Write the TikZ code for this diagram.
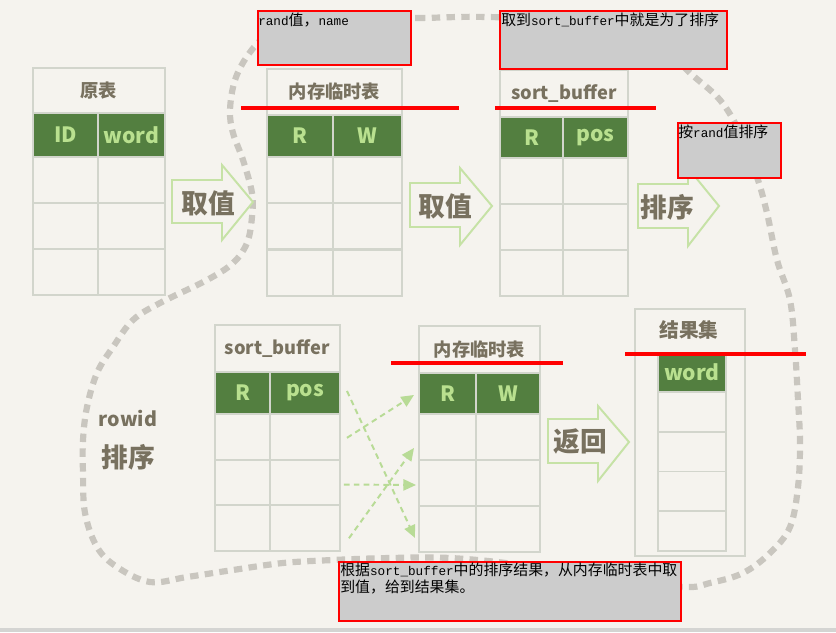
\documentclass[tikz,border=0pt]{standalone}
\usepackage{fontspec}
\setmainfont{Noto Sans CJK SC}
\setmonofont[Scale=0.85]{Liberation Mono}
\usetikzlibrary{positioning,arrows.meta,calc}
\definecolor{paper}{HTML}{F5F3EE}
\definecolor{stripgray}{HTML}{D4D4D2}
\definecolor{gridline}{HTML}{D2D5CC}
\definecolor{headfill}{HTML}{537F40}
\definecolor{headtext}{HTML}{B9E08F}
\definecolor{inkgray}{HTML}{78715F}
\definecolor{leafgreen}{HTML}{C6E2A6}
\definecolor{dashgreen}{HTML}{B8DB96}
\definecolor{loopgray}{HTML}{C9C6BF}
\definecolor{notefill}{HTML}{CCCCCC}
\newcommand{\pxu}{0.025cm}

\begin{document}
\begin{tikzpicture}[x=0.025cm, y=-0.025cm,
  cellsize/.style 2 args={minimum width=#1*\pxu, minimum height=#2*\pxu},
  titlebox/.style={draw=gridline, line width=1.4pt, inner sep=0pt, anchor=north west, text=inkgray, font=\fontsize{13}{15}\selectfont\bfseries},
  headcell/.style={draw=gridline, line width=1.4pt, fill=headfill, inner sep=0pt, anchor=north west, text=headtext, font=\fontsize{15}{17}\selectfont\bfseries},
  bodycell/.style={draw=gridline, line width=1.4pt, inner sep=0pt, anchor=north west},
  blockarrow/.style={draw=leafgreen, line width=1.4pt, fill=paper},
  arrowword/.style={text=inkgray, font=\fontsize{19}{21}\selectfont\bfseries, inner sep=0pt},
  swapline/.style={draw=dashgreen, line width=1.4pt, dash pattern=on 4pt off 3pt, -{Triangle[length=9pt,width=8pt]}},
  loopline/.style={draw=loopgray, line width=4.4pt, dash pattern=on 6pt off 4.5pt},
  redmark/.style={draw=red, line width=2.2pt},
  notebox/.style={draw=red, line width=1.4pt, fill=notefill, inner sep=0pt, anchor=north west},
  notetext/.style={anchor=north west, inner sep=0pt, align=left, font=\fontsize{10.6}{11.5}\selectfont, text=black}
]
% canvas
\fill[paper] (0,0) rectangle (836,632);
\fill[stripgray] (0,628) rectangle (836,632);
\useasboundingbox (0,0) rectangle (836,632);

% rowid loop
\draw[loopline] plot[smooth cycle, tension=0.6] coordinates {
  (330,18) (417,18) (487,17) (600,22) (660,45) (690,73) (720,100) (740,133)
  (757,177) (767,213) (777,260) (790,300) (795,350) (798,400) (800,443)
  (798,487) (790,527) (770,553) (743,573) (710,583) (683,587) (600,580)
  (520,565) (450,558) (390,558) (333,560) (283,563) (233,570) (187,577)
  (150,582) (117,567) (97,547) (85,513) (83,473) (83,440) (87,407) (97,373)
  (113,347) (133,320) (160,303) (207,280) (233,263) (247,243) (252,217)
  (252,193) (243,160) (233,133) (230,110) (235,80) (248,55) (266,36) (292,24)};
\node[text=inkgray, align=center, inner sep=0pt] (rowidlbl) at (128,440)
  {{\fontsize{14}{16}\selectfont\bfseries rowid}\\[12pt]{\fontsize{19}{21}\selectfont\bfseries 排序}};

% original table
\node[titlebox, cellsize={132}{45}] (yb-t) at (32,67) {原表};
\node[headcell, cellsize={65}{44}] (yb-h1) at (32,112) {ID};
\node[headcell, cellsize={67}{44}] (yb-h2) at (97,112) {word};
\foreach \i in {0,1,2} {
  \node[bodycell, cellsize={65}{46}] (yb-a\i) at (32,{156+46*\i}) {};
  \node[bodycell, cellsize={67}{46}] (yb-b\i) at (97,{156+46*\i}) {};
}

% memory table, top
\node[titlebox, cellsize={135}{46}] (nc-t) at (266,68) {内存临时表};
\node[headcell, cellsize={66}{42}] (nc-h1) at (266,114) {R};
\node[headcell, cellsize={69}{42}] (nc-h2) at (332,114) {W};
\foreach \i in {0,1,2} {
  \node[bodycell, cellsize={66}{46}] (nc-a\i) at (266,{156+46.3*\i}) {};
  \node[bodycell, cellsize={69}{46}] (nc-b\i) at (332,{156+46.3*\i}) {};
}

% sort buffer, top
\node[titlebox, cellsize={128}{47}] (sb-t) at (499,69) {sort\_buffer};
\node[headcell, cellsize={63}{41}] (sb-h1) at (499,116) {R};
\node[headcell, cellsize={65}{41}] (sb-h2) at (562,116) {pos};
\foreach \i in {0,1,2} {
  \node[bodycell, cellsize={63}{46}] (sb-a\i) at (499,{157+46*\i}) {};
  \node[bodycell, cellsize={65}{46}] (sb-b\i) at (562,{157+46*\i}) {};
}

% sort buffer, bottom
\node[titlebox, cellsize={125}{47}] (dh-t) at (214,324) {sort\_buffer};
\node[headcell, cellsize={55}{42}] (dh1) at (214,371) {R};
\node[headcell, cellsize={70}{42}] (dh2) at (269,371) {pos};
\foreach \i in {0,1,2} {
  \node[bodycell, cellsize={55}{45.7}] (dl\i) at (214,{413+45.7*\i}) {};
  \node[bodycell, cellsize={70}{45.7}] (dr\i) at (269,{413+45.7*\i}) {};
}

% memory table, bottom
\node[titlebox, cellsize={121}{47}] (eh-t) at (418,325) {内存临时表};
\node[headcell, cellsize={57}{41}] (eh1) at (418,372) {R};
\node[headcell, cellsize={64}{41}] (eh2) at (475,372) {W};
\foreach \i in {0,1,2} {
  \node[bodycell, cellsize={57}{46}] (el\i) at (418,{413+46*\i}) {};
  \node[bodycell, cellsize={64}{46}] (er\i) at (475,{413+46*\i}) {};
}

% result set
\node[bodycell, cellsize={110}{247}] (jg) at (634,308) {};
\node[text=inkgray, font=\fontsize{14}{16}\selectfont\bfseries, inner sep=0pt] (jg-t) at (689,330) {结果集};
\node[headcell, cellsize={68}{39}] (jg-h) at (657,352) {word};
\foreach \i in {0,1,2,3} {
  \node[bodycell, cellsize={68}{39.75}] (jg-r\i) at (657,{391+39.75*\i}) {};
}

% block arrows
\draw[blockarrow] (172,180) -- (222,180) -- (222,165) -- (253,202) -- (222,240) -- (222,223) -- (172,223) -- cycle;
\node[arrowword] (qz1) at (208,203) {取值};
\draw[blockarrow] (410,183) -- (460,183) -- (460,168) -- (492,206) -- (460,245) -- (460,227) -- (410,227) -- cycle;
\node[arrowword] (qz2) at (445,206) {取值};
\draw[blockarrow] (638,184) -- (688,184) -- (688,168) -- (719,206) -- (688,246) -- (688,228) -- (638,228) -- cycle;
\node[arrowword] (px) at (667,207) {排序};
\draw[blockarrow] (548,419) -- (598,419) -- (598,406) -- (629,442) -- (598,481) -- (598,463) -- (548,463) -- cycle;
\node[arrowword] (fh) at (580,441) {返回};

% rowid lookups
\draw[swapline] ($(dh2.east)+(6,-2)$) -- ($(el2.west)+(-3,9)$);
\draw[swapline] ($(dr0.east)+(6,1)$) -- ($(eh1.west)+(-4,1.5)$);
\draw[swapline] ($(dr1.east)+(3,2)$) -- ($(el1.west)+(-2,2)$);
\draw[swapline] ($(dr2.east)+(8,10)$) -- ($(el0.west)+(-4,11)$);

% red marks
\coordinate (m1a) at (241,108); \coordinate (m1b) at (459,108);
\coordinate (m2a) at (495,108); \coordinate (m2b) at (656,108);
\coordinate (m3a) at (391,363); \coordinate (m3b) at (563,363);
\coordinate (m4a) at (625,354); \coordinate (m4b) at (806,354);
\draw[redmark] (m1a) -- (m1b);
\draw[redmark] (m2a) -- (m2b);
\draw[redmark] (m3a) -- (m3b);
\draw[redmark] (m4a) -- (m4b);

% notes
\node[notebox, cellsize={153}{54}] (n1) at (257,10) {};
\node[notetext] (n1t) at ($(n1.north west)+(1,3)$) {{\ttfamily rand}值，{\ttfamily name}};
\node[notebox, cellsize={227}{58}] (n2) at (499,10) {};
\node[notetext] (n2t) at ($(n2.north west)+(2,3)$) {取到{\ttfamily sort\_buffer}中就是为了排序};
\node[notebox, cellsize={103}{55}] (n3) at (677,122) {};
\node[notetext] (n3t) at ($(n3.north west)+(1,3)$) {按{\ttfamily rand}值排序};
\node[notebox, cellsize={342}{59}] (n4) at (338,561) {};
\node[notetext] (n4t) at ($(n4.north west)+(2,2)$) {根据{\ttfamily sort\_buffer}中的排序结果，从内存临时表中取\\到值，给到结果集。};
\end{tikzpicture}
\end{document}
